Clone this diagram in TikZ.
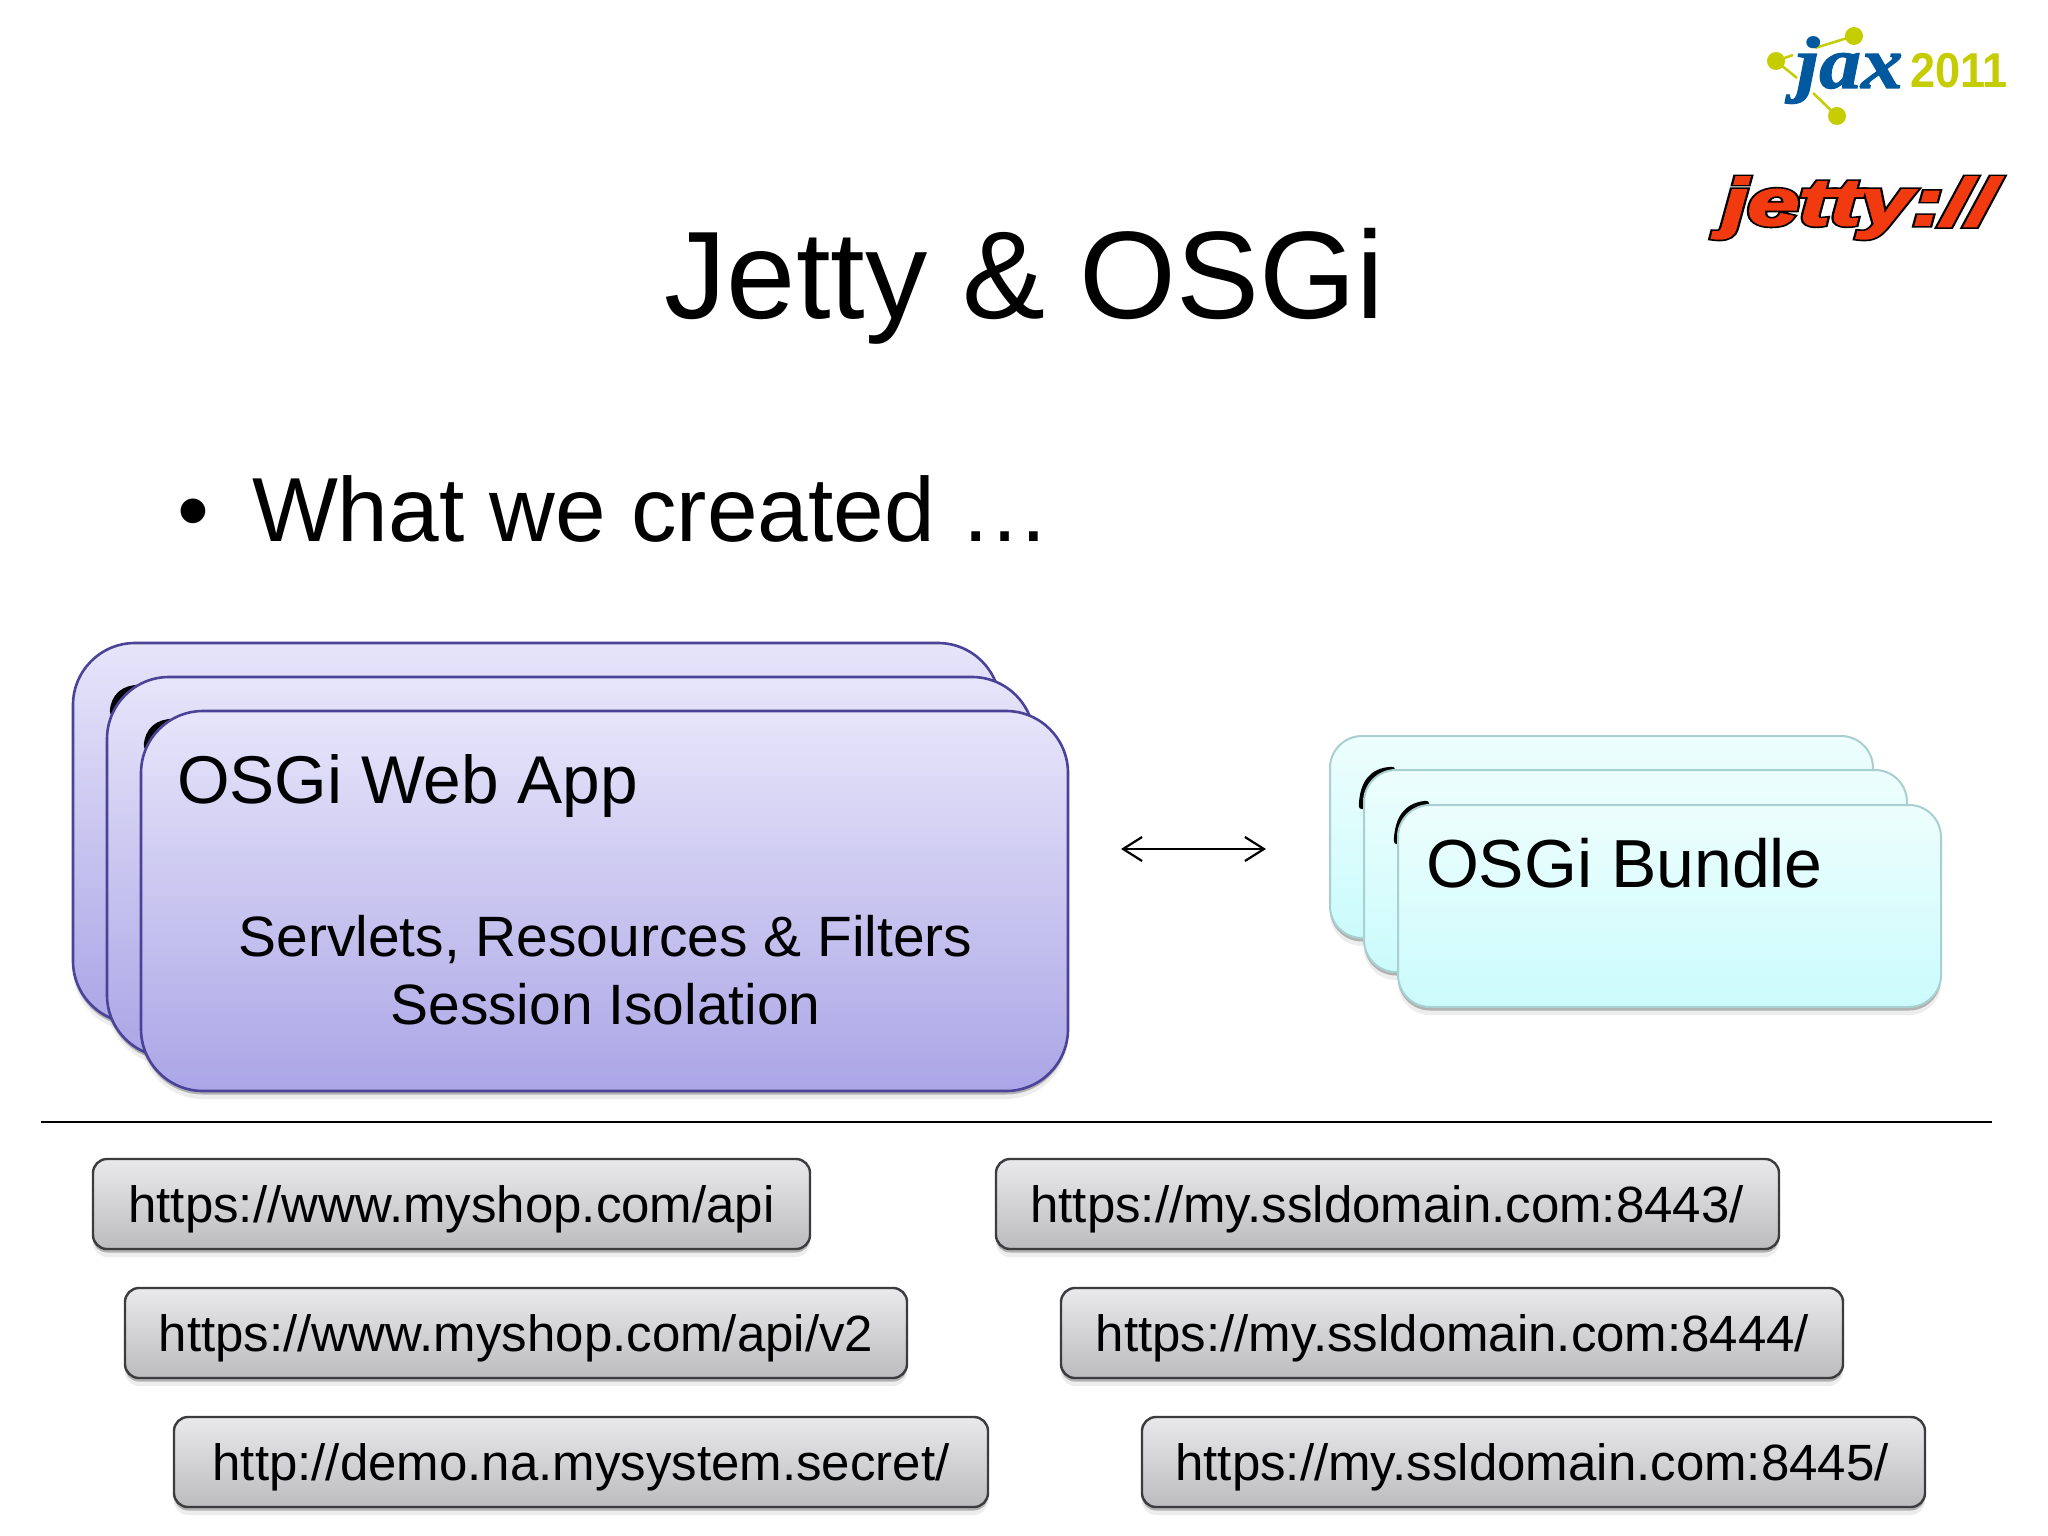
\documentclass[tikz,border=0pt]{standalone}
\usepackage{fontspec}
\setmainfont{Liberation Sans}
\newfontfamily\jaxfont[FakeBold=1.5]{Liberation Serif Bold Italic}
\newfontfamily\jettyout[FakeBold=8]{Liberation Sans Bold Italic}
\newfontfamily\jettyfill[FakeBold=3]{Liberation Sans Bold Italic}
\usetikzlibrary{arrows.meta,shadows}
\definecolor{webtop}{HTML}{E7E5FA}
\definecolor{webbot}{HTML}{ABA6E6}
\definecolor{webline}{HTML}{4B4398}
\definecolor{bndtop}{HTML}{EDFEFD}
\definecolor{bndbot}{HTML}{CBFBFC}
\definecolor{bndline}{HTML}{A9CFD0}
\definecolor{urltop}{HTML}{E9E9EC}
\definecolor{urlbot}{HTML}{BCBCBF}
\definecolor{urlline}{HTML}{3C3C3E}
\definecolor{jaxblue}{HTML}{00589F}
\definecolor{jaxlime}{HTML}{C5CC00}
\definecolor{jettyred}{HTML}{F23A10}
\newcommand{\fs}[1]{\fontsize{#1}{#1}\selectfont}
\tikzset{softshadow/.style={general shadow={fill=black,opacity=.07,shadow yshift=-8pt},general shadow={fill=black,opacity=.25,shadow yshift=-3.5pt}}}
\begin{document}
\begin{tikzpicture}[x=1pt,y=-1pt]
        \tikzstyle{every node}=[inner sep=0pt,outer sep=0pt,text=black]
        \tikzstyle{webbox}=[softshadow,anchor=north west,draw=webline,line width=2.6pt,top color=webtop,bottom color=webbot,rounded corners=62pt,minimum width=927pt,minimum height=380pt]
        \tikzstyle{bndbox}=[softshadow,anchor=north west,draw=bndline,line width=2pt,top color=bndtop,bottom color=bndbot,rounded corners=32pt,minimum width=543pt,minimum height=202pt]
        \tikzstyle{urlbox}=[softshadow,anchor=north west,draw=urlline,line width=2.4pt,top color=urltop,bottom color=urlbot,rounded corners=14pt,minimum height=90pt]
        \tikzstyle{urltext}=[anchor=base,font=\fs{51}]
        \tikzstyle{arcpart}=[line width=6.5pt,line cap=round]
        \tikzstyle{bump}=[line width=1pt,black!35]
        \fill[white] (0,0) rectangle (2048,1536);
        \useasboundingbox (0,0) rectangle (2048,1536);
        % logos
        \draw[jaxlime,line width=2.5pt] (1854,36) -- (1815,48) (1776,61) -- (1793,55) (1776,61) -- (1797,78) (1837,116) -- (1813,93);
        \foreach \cx/\cy in {1854/36,1776/61,1837/116} \fill[jaxlime] (\cx,\cy) circle (9pt);
        \node[anchor=base west,text=jaxblue,xscale=1.13,font=\jaxfont\fs{74}] (jaxname) at (1796,88) {jax};
        \node[anchor=base west,text=jaxlime,xscale=.92,font=\bfseries\fs{49}] (jaxyear) at (1910,88) {2011};
        \node[anchor=base west,xscale=1.4,font=\jettyout\fs{66}] (jettyback) at (1722,225) {jetty://};
        \node[anchor=base west,text=jettyred,xscale=1.4,font=\jettyfill\fs{66}] (jetty) at (1722,225) {jetty://};
        % title
        \node[anchor=base,font=\fs{124.5}] (title) at (1024.5,318) {Jetty \& OSGi};
        \node[anchor=base,font=\fs{91}] (bullet) at (193,541) {•};
        \node[anchor=base west,font=\fs{91}] (created) at (252,541) {What we created …};
        % web apps
        \node[webbox] (webC) at (73,643) {};
        \draw[arcpart] (113,712) .. controls (114,696) and (124,688) .. (140,688);
        \node[webbox] (webB) at (107,677) {};
        \draw[arcpart] (147,746) .. controls (148,730) and (158,722) .. (174,722);
        \node[webbox] (webA) at (141,711) {};
        \node[anchor=base west,font=\fs{67.6}] (webname) at (177,803) {OSGi Web App};
        \node[anchor=base,font=\fs{56.9}] (webline1) at (605.5,956) {Servlets, Resources \& Filters};
        \node[anchor=base,font=\fs{56.9}] (webline2) at (605.5,1024) {Session Isolation};
        % bundles
        \node[bndbox] (bndC) at (1330,736) {};
        \draw[arcpart] (1362,806) .. controls (1363,784) and (1371,771) .. (1392,770);
        \foreach \bx/\bw in {1432/7,1483/7,1557/12,1705/7} \draw[bump] (\bx-\bw,769) -- (\bx+\bw,769);
        \node[bndbox] (bndB) at (1364,770) {};
        \draw[arcpart] (1397,841) .. controls (1398,819) and (1406,806) .. (1426,804);
        \foreach \bx/\bw in {1467/7,1520/7,1594/12,1742/7} \draw[bump] (\bx-\bw,804) -- (\bx+\bw,804);
        \node[bndbox] (bndA) at (1398,805) {};
        \node[anchor=base west,font=\fs{68}] (bndname) at (1426,887) {OSGi Bundle};
        % arrow and rule
        \coordinate (arrowL) at (1121,849);
        \coordinate (arrowR) at (1266,849);
        \draw[{Straight Barb[length=19pt,width=24pt]}-{Straight Barb[length=19pt,width=24pt]},line width=2.2pt] (arrowL) -- (arrowR);
        \coordinate (ruleL) at (41,1122);
        \coordinate (ruleR) at (1992,1122);
        \draw[line width=2.8pt] (ruleL) -- (ruleR);
        % urls
        \foreach \nm/\ux/\uy/\uw/\tx/\lbl in {
            urlA/93/1159/717/451.5/{https://www.myshop.com/api},
            urlB/125/1288/782/516/{https://www.myshop.com/api/v2},
            urlC/174/1417/814/581/{http://demo.na.mysystem.secret/},
            urlD/996/1159/783/1387/{https://my.ssldomain.com:8443/},
            urlE/1061/1288/782/1452.5/{https://my.ssldomain.com:8444/},
            urlF/1142/1417/783/1532/{https://my.ssldomain.com:8445/}}{
            \node[urlbox,minimum width=\uw pt] (\nm) at (\ux,\uy) {};
            \node[urltext] (\nm text) at (\tx,\uy+63) {\lbl};
        }
\end{tikzpicture}
\end{document}
